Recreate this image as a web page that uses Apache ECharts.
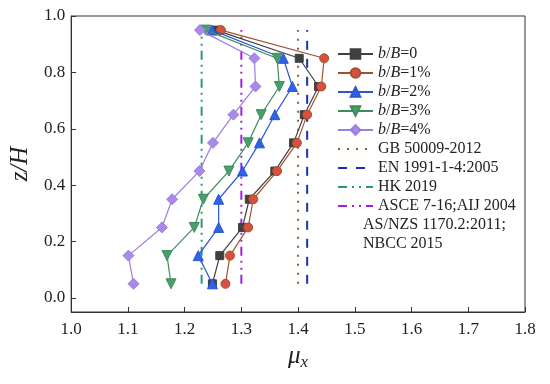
<!DOCTYPE html>
<html>
<head>
<meta charset="utf-8">
<script src="https://cdn.jsdelivr.net/npm/echarts@6/dist/echarts.min.js"></script>
<style>html,body{margin:0;padding:0;background:#fff}#c{width:550px;height:384px}</style>
</head>
<body>
<div id="c"></div>
<script>
// Heights (z/H)
var zLevels = [0.05, 0.15, 0.25, 0.35, 0.45, 0.55, 0.65, 0.75, 0.85, 0.95];
// mu_x for each b/B case
var b0 = [1.249, 1.262, 1.302, 1.314, 1.359, 1.392, 1.411, 1.436, 1.402, 1.255];
var b1 = [1.272, 1.280, 1.312, 1.321, 1.363, 1.398, 1.416, 1.441, 1.446, 1.264];
var b2 = [1.249, 1.224, 1.260, 1.260, 1.302, 1.332, 1.359, 1.390, 1.374, 1.248];
var b3 = [1.176, 1.169, 1.217, 1.233, 1.278, 1.312, 1.335, 1.367, 1.363, 1.237];
var b4 = [1.110, 1.101, 1.160, 1.178, 1.226, 1.250, 1.286, 1.325, 1.323, 1.227];
var seriesNames = ['b/B=0', 'b/B=1%', 'b/B=2%', 'b/B=3%', 'b/B=4%'];
// Code values
var codeNames = ['GB 50009-2012', 'EN 1991-1-4:2005', 'HK 2019', 'ASCE 7-16;AIJ 2004'];
var codeValues = [1.40, 1.416, 1.23, 1.30];
var codeSpan = [0.05, 0.95];
var xTicks = [1.0, 1.1, 1.2, 1.3, 1.4, 1.5, 1.6, 1.7, 1.8];
var yTicks = [0.0, 0.2, 0.4, 0.6, 0.8, 1.0];

var FONT = '"Liberation Serif","Times New Roman",serif';
var chart = echarts.init(document.getElementById('c'));

function pts(arr) { return arr.map(function (v, i) { return [v, zLevels[i]]; }); }

var styles = [
  {line: '#404040', fill: '#404040', border: '#404040', symbol: 'rect', size: 8},
  {line: '#a0522d', fill: '#d9503f', border: '#a0522d', symbol: 'circle', size: 9},
  {line: '#2a56d6', fill: '#2f62e6', border: '#2a56d6', symbol: 'triangle', size: 10},
  {line: '#3e8c5c', fill: '#47a06c', border: '#3e8c5c', symbol: 'path://M0,0 L10,0 L5,9 Z', size: 10},
  {line: '#9a7fdf', fill: '#a98ae9', border: '#9a7fdf', symbol: 'diamond', size: 11}
];
var dataArr = [b0, b1, b2, b3, b4];
var series = [];
dataArr.forEach(function (d, k) {
  var s = styles[k];
  series.push({
    name: seriesNames[k], type: 'line', data: pts(d),
    symbol: s.symbol, symbolSize: s.size,
    lineStyle: {color: s.line, width: 1.2},
    itemStyle: {color: s.fill, borderColor: s.border, borderWidth: 1},
    z: 3 + k, animation: false
  });
});
var codeStyles = [
  {color: '#9c5a2c', type: [2, 7], width: 2},
  {color: '#1c2fb8', type: [9, 9], width: 2},
  {color: '#2a9a7a', type: [9, 5, 2, 5, 2, 5], width: 2},
  {color: '#a21ee0', type: [9, 5, 2, 5, 2, 5], width: 2}
];
codeNames.forEach(function (n, k) {
  series.push({
    name: n, type: 'line', symbol: 'none',
    data: [[codeValues[k], codeSpan[0]], [codeValues[k], codeSpan[1]]],
    lineStyle: codeStyles[k], itemStyle: {color: codeStyles[k].color},
    z: 2, animation: false
  });
});

var legendData = seriesNames.map(function (n) { return {name: n}; })
  .concat(codeNames.map(function (n) { return {name: n, itemStyle: {opacity: 0}}; }));

chart.setOption({
  animation: false,
  grid: {left: 70, right: 25, top: 16, bottom: 72, show: true, borderColor: '#333', borderWidth: 1},
  xAxis: {
    type: 'value', min: 1.0, max: 1.8,
    axisLine: {onZero: false, lineStyle: {color: '#333', width: 1}},
    axisTick: {inside: true, length: 5, lineStyle: {color: '#333'}, customValues: xTicks},
    splitLine: {show: false},
    axisLabel: {fontFamily: FONT, fontSize: 17, color: '#222', margin: 9, customValues: xTicks,
      formatter: function (v) { return v.toFixed(1); }},
    name: '{m|μ}{s|x}', nameLocation: 'middle', nameGap: 30,
    nameTextStyle: {rich: {
      m: {fontFamily: FONT, fontStyle: 'italic', fontSize: 25, color: '#222'},
      s: {fontFamily: FONT, fontStyle: 'italic', fontSize: 17, color: '#222', padding: [12, 0, 0, 0]}
    }}
  },
  yAxis: {
    type: 'value', min: -0.05, max: 1.0,
    axisLine: {onZero: false, lineStyle: {color: '#333', width: 1}},
    axisTick: {inside: true, length: 5, lineStyle: {color: '#333'}, customValues: yTicks},
    splitLine: {show: false},
    axisLabel: {fontFamily: FONT, fontSize: 17, color: '#222', margin: 6, customValues: yTicks,
      formatter: function (v) { return v.toFixed(1); }},
    name: 'z/H', nameLocation: 'middle', nameGap: 37,
    nameTextStyle: {fontFamily: FONT, fontStyle: 'italic', fontSize: 25, color: '#222'}
  },
  legend: {
    orient: 'vertical', left: 332, top: 41,
    itemWidth: 35, itemHeight: 12, itemGap: 3,
    data: legendData,
    formatter: function (n) {
      return n.indexOf('b/B') === 0 ? '{i|b}/{i|B}' + n.slice(3) : n;
    },
    textStyle: {fontFamily: FONT, fontSize: 16, color: '#222',
      rich: {i: {fontFamily: FONT, fontSize: 16, fontStyle: 'italic', color: '#222'}}}
  },
  graphic: [{
    type: 'text', left: 363, top: 215,
    style: {text: 'AS/NZS 1170.2:2011;\nNBCC 2015', font: '16px ' + FONT, fill: '#222', lineHeight: 19}
  }],
  series: series
});
</script>
</body>
</html>
